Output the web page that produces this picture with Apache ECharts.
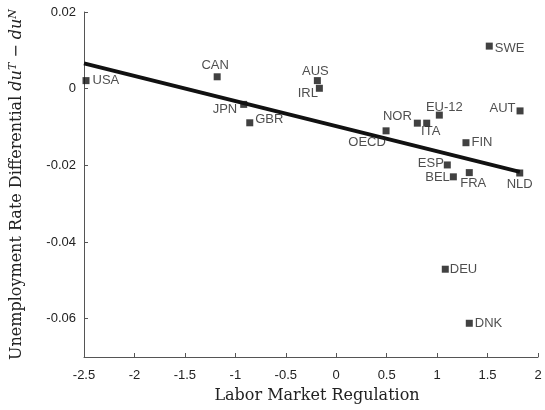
<!DOCTYPE html>
<html>
<head>
<meta charset="utf-8">
<script src="https://cdn.jsdelivr.net/npm/echarts@6/dist/echarts.min.js"></script>
<style>
html,body{margin:0;padding:0;background:#fff;}
#c{width:545px;height:410px;}
</style>
</head>
<body>
<div id="c"></div>
<script>
// ---- data ----
var countries = ['USA','CAN','JPN','GBR','AUS','IRL','SWE','EU-12','AUT','NOR','ITA','OECD','FIN','ESP','BEL','FRA','NLD','DEU','DNK'];
var regulation = [-2.48,-1.18,-0.917,-0.857,-0.187,-0.167,1.517,1.022,1.822,0.804,0.897,0.494,1.286,1.101,1.161,1.319,1.819,1.081,1.319];
var differential = [0.0021,0.0031,-0.0041,-0.0089,0.0021,0.0001,0.0111,-0.0069,-0.0058,-0.0090,-0.0090,-0.0110,-0.0141,-0.0199,-0.0230,-0.0219,-0.0220,-0.0471,-0.0612];
var fitX = [-2.5, 1.82];
var fitY = [0.0066, -0.0217];
var yTicks = [0.02, 0, -0.02, -0.04, -0.06];

// ---- label styling (per country) : [position, distance, dx, dy] ----
var labelStyle = {
  'USA':['right',3,0,0], 'CAN':['top',1,-2,0], 'JPN':['left',3,0,5], 'GBR':['right',2,0,-3],
  'AUS':['top',-1,-2,0], 'IRL':['left',-2,0,5], 'SWE':['right',2,0,2], 'EU-12':['top',-2,5,0],
  'AUT':['left',1,0,-2], 'NOR':['left',2,0,-7], 'ITA':['bottom',-2,4,0], 'OECD':['bottom',2,-19,0],
  'FIN':['right',2,0,0], 'ESP':['left',0,0,-2], 'BEL':['left',0,0,1], 'FRA':['bottom',1,4,0],
  'NLD':['bottom',1,0,0], 'DEU':['right',1,0,0], 'DNK':['right',2,0,0]
};

var pts = countries.map(function(c,i){
  var s = labelStyle[c];
  return {
    name: c,
    value: [regulation[i], differential[i]],
    label: {show:true, formatter:c, position:s[0], distance:s[1], offset:[s[2],s[3]]}
  };
});
var fitData = fitX.map(function(x,i){ return [x, fitY[i]]; });

var serif = 'DejaVu Serif';
var sans = 'Liberation Sans, Arial, sans-serif';
var chart = echarts.init(document.getElementById('c'), null, {renderer:'canvas'});
chart.setOption({
  animation:false,
  backgroundColor:'#fff',
  grid:{left:84, right:7, top:12, bottom:53, containLabel:false},
  xAxis:{
    type:'value', min:-2.5, max:2, interval:0.5,
    name:'Labor Market Regulation', nameLocation:'middle', nameGap:31,
    nameTextStyle:{fontFamily:serif, fontSize:16, color:'#222', padding:[0,0,0,12]},
    axisLine:{show:true, onZero:false, lineStyle:{color:'#555', width:1}},
    axisTick:{show:true, inside:true, length:4, lineStyle:{color:'#555'}},
    axisLabel:{fontFamily:sans, fontSize:13, color:'#222', margin:12},
    splitLine:{show:false}
  },
  yAxis:{
    type:'value', min:-0.07, max:0.02,
    name:'Unemployment Rate Differential {it|du}{sup|T}{n| − }{it|du}{sup|N}',
    nameLocation:'middle', nameGap:58,
    nameTextStyle:{fontFamily:serif, fontSize:16, color:'#222', lineHeight:18,
      rich:{
        it:{fontFamily:serif, fontStyle:'italic', fontSize:16, color:'#222', lineHeight:18},
        n:{fontFamily:serif, fontSize:16, color:'#222', lineHeight:18},
        sup:{fontFamily:serif, fontStyle:'italic', fontSize:11, color:'#222', lineHeight:8, verticalAlign:'top'}
      }},
    axisLine:{show:true, onZero:false, lineStyle:{color:'#555', width:1}},
    axisTick:{show:true, inside:true, length:4, lineStyle:{color:'#555'}, customValues:yTicks},
    axisLabel:{fontFamily:sans, fontSize:13, color:'#222', margin:8, customValues:yTicks,
      formatter:function(v){ return String(Math.round(v*100)/100); }},
    splitLine:{show:false}
  },
  series:[
    {
      type:'line', data:fitData, symbol:'none', z:1,
      lineStyle:{color:'#111', width:4}
    },
    {
      type:'scatter', data:pts, symbol:'rect', symbolSize:7, z:2,
      itemStyle:{color:'#111'},
      label:{fontFamily:sans, fontSize:13, color:'#222'}
    }
  ]
});
</script>
</body>
</html>
